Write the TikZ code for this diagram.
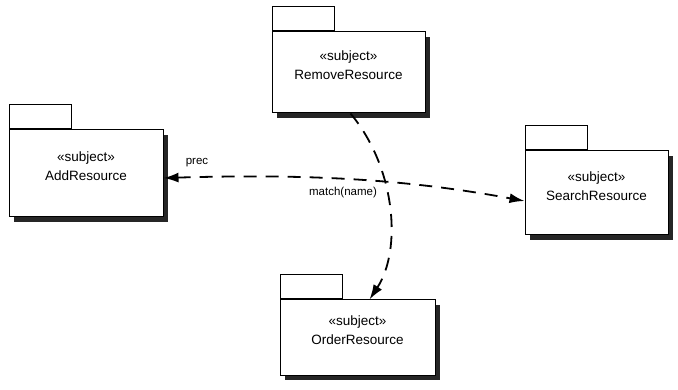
\documentclass[tikz,border=0pt]{standalone}
\usepackage{fontspec}
\setmainfont{Liberation Sans}
\usepackage{tikz}
\usetikzlibrary{positioning, arrows.meta, shadows}

\begin{document}
\begin{tikzpicture}[
    x=1pt, y=-1pt,
    >={Latex[length=15pt,width=10pt]},
    every node/.style={font=\fontsize{13.5}{19}\selectfont},
    pkgbody/.style={draw, line width=1pt, fill=white, inner sep=0pt,
        drop shadow={shadow xshift=5pt, shadow yshift=-5pt, opacity=1, fill=black!85}},
    pkgtab/.style={draw, line width=1pt, fill=white, anchor=south west,
        minimum width=62pt, minimum height=24pt, inner sep=0pt},
    pkgtext/.style={align=center, yshift=7pt},
    dep/.style={line width=1.8pt, dash pattern=on 13pt off 9pt},
    lbl/.style={font=\fontsize{11.5}{13}\selectfont}
]
\useasboundingbox (0,0) rectangle (678,390);

% ========== Pakete ==========
\node[pkgbody, minimum width=154pt, minimum height=87pt] (add) at (86,173.5) {};
\node[pkgtab] (addtab) at (add.north west) {};
\node[pkgtext] (addtxt) at (add) {«subject»\\AddResource};

\node[pkgbody, minimum width=153pt, minimum height=81pt] (remove) at (348.5,72.5) {};
\node[pkgtab] (removetab) at (remove.north west) {};
\node[pkgtext] (removetxt) at (remove) {«subject»\\RemoveResource};

\node[pkgbody, minimum width=143pt, minimum height=84pt] (search) at (596.5,193) {};
\node[pkgtab] (searchtab) at (search.north west) {};
\node[pkgtext] (searchtxt) at (search) {«subject»\\SearchResource};

\node[pkgbody, minimum width=155pt, minimum height=75pt] (order) at (357.5,337.5) {};
\node[pkgtab] (ordertab) at (order.north west) {};
\node[pkgtext] (ordertxt) at (order) {«subject»\\OrderResource};

% ========== Abhaengigkeiten ==========
\draw[dep, <->] ([yshift=-4.5pt]add.east) .. controls (300,174) and (400,178) .. ([yshift=-8pt]search.west);
\draw[dep, ->] ([xshift=2pt]remove.south) .. controls (396,168) and (402,250) .. ([xshift=12pt]order.north);

% ========== Beschriftungen ==========
\node[lbl] (prec) at (197,163) {prec};
\node[lbl] (match) at (343,193) {match(name)};

\end{tikzpicture}
\end{document}
